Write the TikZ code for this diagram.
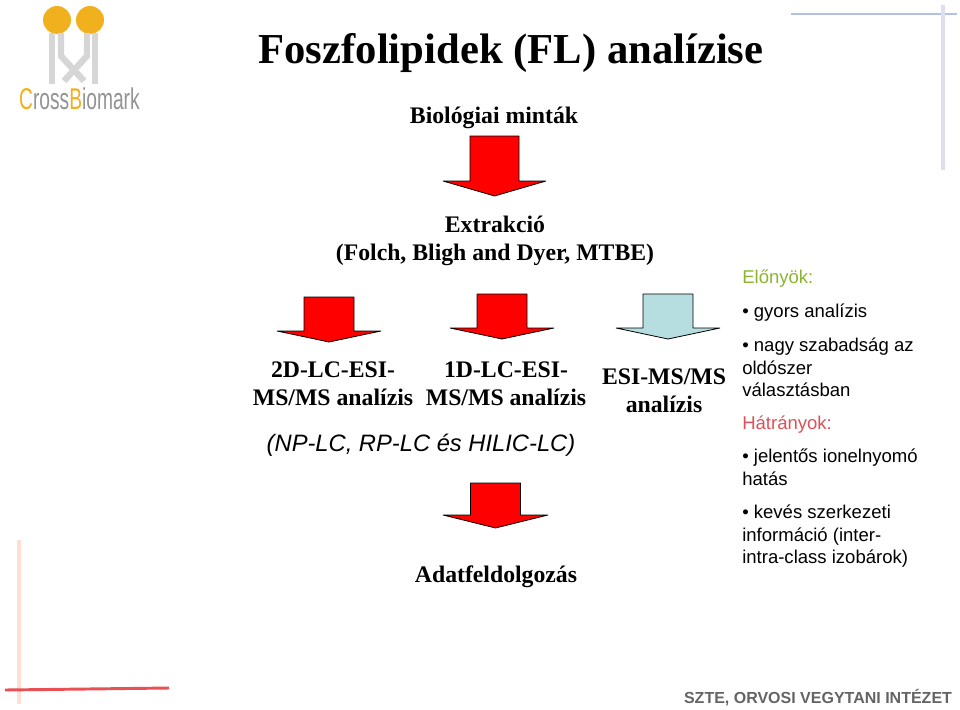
\documentclass[tikz,border=0pt]{standalone}
\usepackage{fontspec}
\setmainfont{Liberation Serif}
\setsansfont{Liberation Sans}
\usetikzlibrary{positioning}
\definecolor{arrowred}{RGB}{255,0,0}
\definecolor{arrowblue}{RGB}{182,221,224}
\definecolor{logogold}{RGB}{241,176,30}
\definecolor{logogray}{RGB}{214,214,214}
\definecolor{headgreen}{RGB}{140,180,50}
\definecolor{headred}{RGB}{220,80,88}
\definecolor{footgray}{RGB}{100,100,100}
\definecolor{cornerblue}{RGB}{182,192,226}
\definecolor{cornerlilac}{RGB}{222,222,240}
\definecolor{cornerpink}{RGB}{255,222,212}
\definecolor{cornerred}{RGB}{232,80,84}
\tikzset{
    label/.style={font=\bfseries\fontsize{17.8}{21.3}\selectfont, align=center, inner sep=0pt},
    sidetext/.style={font=\sffamily\fontsize{13.9}{16.6}\selectfont, align=left, anchor=north west, inner sep=0pt},
    flow/.style={draw=black, line width=0.6pt, line join=bevel},
    logobar/.style={logogray, line width=4.8pt}
}
% centre x, top, shoulder, tip, half shaft, half head, fill
\newcommand{\flowarrow}[7]{
    \draw[flow, fill=#7] (#1-#5, #2) -- (#1+#5, #2) -- (#1+#5, #3) -- (#1+#6, #3)
        -- (#1, #4) -- (#1-#6, #3) -- (#1-#5, #3) -- cycle;
}
\begin{document}
\begin{tikzpicture}[x=0.75pt, y=-0.75pt]
    \useasboundingbox (0, 0) rectangle (960, 710);

    % Logo
    \fill[logogold] (57, 20) circle (14);
    \fill[logogold] (90, 20) circle (14);
    \draw[logobar] (52, 33) -- (52, 84);
    \draw[logobar] (95, 33) -- (95, 84);
    \draw[logobar] (61, 33) -- (61, 56) -- (84, 81);
    \draw[logobar] (87, 33) -- (87, 56) -- (64, 81);
    \node[inner sep=0pt, anchor=west, xscale=0.64, text=gray!85, font=\sffamily\fontsize{22.5}{22.5}\selectfont] (logo) at (19, 99)
        {\textcolor{logogold}{C}ross\textcolor{logogold}{B}iomark};

    % Corner lines
    \draw[cornerblue, line width=2.2pt] (791, 14) -- (957, 14);
    \draw[cornerlilac, line width=2.4pt] (943, 5) -- (943, 170);
    \draw[cornerpink, line width=2.4pt] (19, 540) -- (19, 704);
    \draw[cornerred, line width=2.2pt] (5, 690) -- (169, 688);

    % Title and flow labels
    \node[inner sep=0pt, font=\bfseries\fontsize{32}{38}\selectfont] (title) at (511, 53) {Foszfolipidek (FL) analízise};
    \node[label] (sample) at (494, 118) {Biológiai minták};
    \node[label] (extract) at (495, 241) {Extrakció\\(Folch, Bligh and Dyer, MTBE)};
    \node[label] (twod) at (333, 384) {2D-LC-ESI-\\MS/MS analízis};
    \node[label] (oned) at (506, 384) {1D-LC-ESI-\\MS/MS analízis};
    \node[label] (esi) at (664, 391) {ESI-MS/MS\\analízis};
    \node[inner sep=0pt, font=\sffamily\itshape\fontsize{17.8}{21}\selectfont] (phase) at (421, 445) {(NP-LC, RP-LC és HILIC-LC)};
    \node[label] (data) at (496, 577) {Adatfeldolgozás};

    % Arrows
    \flowarrow{494.5}{136}{181}{196}{24.5}{51.5}{arrowred}
    \flowarrow{329}{297}{331}{342}{25}{52}{arrowred}
    \flowarrow{502}{294}{328}{339}{25}{52}{arrowred}
    \flowarrow{668}{294}{328}{339}{25}{52}{arrowblue}
    \flowarrow{495.5}{483}{515}{528}{25}{52.5}{arrowred}

    % Right column
    \node[sidetext, text=headgreen] (pros) at (742, 270) {Előnyök:};
    \node[sidetext] (fast) at (742, 304) {• gyors analízis};
    \node[sidetext] (select) at (742, 338) {• nagy szabadság az\\oldószer\\választásban};
    \node[sidetext, text=headred] (cons) at (742, 416) {Hátrányok:};
    \node[sidetext] (supp) at (742, 449) {• jelentős ionelnyomó\\hatás};
    \node[sidetext] (info) at (742, 505) {• kevés szerkezeti\\információ (inter-\\intra-class izobárok)};

    % Footer
    \node[inner sep=0pt, text=footgray, font=\sffamily\bfseries\fontsize{12}{14}\selectfont] (foot) at (818, 698) {SZTE, ORVOSI VEGYTANI INTÉZET};
\end{tikzpicture}
\end{document}
